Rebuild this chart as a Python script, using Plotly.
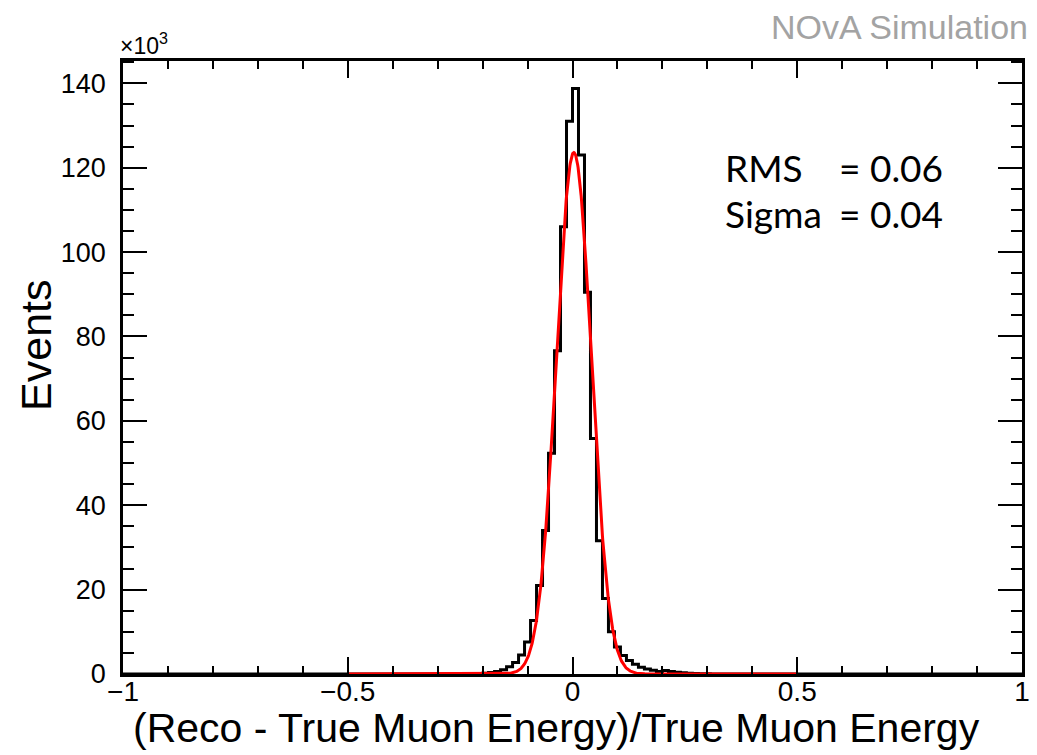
import numpy as np
import plotly.graph_objects as go

# ---------------- data (values in units of 10^3 events) ----------------
BIN_WIDTH = 2.0 / 150.0          # 150 bins over [-1, 1]
FIRST_BIN_INDEX = -18            # index of first listed bin (edge = index * BIN_WIDTH)
counts_k = [
    0.03, 0.06, 0.12, 0.2, 0.35, 0.6, 1.0, 1.7, 2.7, 4.5,      # i = -18 .. -9
    7.6, 12.7, 21.0, 34.0, 52.3, 76.6, 106.0, 131.0,            # i = -8 .. -1
    138.8, 123.0, 90.5, 55.8, 31.6, 17.9, 10.0, 6.4, 4.4, 3.2,  # i = 0 .. 9
    2.3, 1.6, 1.2, 0.9, 0.6, 0.8, 0.6, 0.4, 0.3, 0.2,           # i = 10 .. 19
    0.12, 0.08, 0.04,                                           # i = 20 .. 22
]
# Gaussian fit parameters
FIT_AMP = 123.6
FIT_MEAN = 0.003
FIT_SIGMA = 0.039
FIT_RANGE = [-0.5, 0.5]

x_tick_vals = [-1, -0.5, 0, 0.5, 1]
x_tick_text = ["\u22121", "\u22120.5", "0", "0.5", "1"]
y_tick_vals = [0, 20, 40, 60, 80, 100, 120, 140]
y_tick_text = ["0", "20", "40", "60", "80", "100", "120", "140"]

stats_labels = ["RMS", "Sigma"]
stats_values = ["= 0.06", "= 0.04"]

# ---------------- build full histogram ----------------
nbins = 150
full = [0.0] * nbins
start = FIRST_BIN_INDEX + 75
for k, v in enumerate(counts_k):
    full[start + k] = v
edges = [-1.0 + i * BIN_WIDTH for i in range(nbins + 1)]
step_x = edges
step_y = full + [full[-1]]

fx = np.linspace(FIT_RANGE[0], FIT_RANGE[1], 1201)
fy = FIT_AMP * np.exp(-0.5 * ((fx - FIT_MEAN) / FIT_SIGMA) ** 2)

fig = go.Figure()
fig.add_trace(go.Scatter(x=step_x, y=step_y, mode="lines",
                         line=dict(color="black", width=3, shape="hv"),
                         hoverinfo="skip", showlegend=False))
fig.add_trace(go.Scatter(x=fx, y=fy, mode="lines",
                         line=dict(color="#ff0000", width=3),
                         hoverinfo="skip", showlegend=False))

FONT = "Liberation Sans, Arial, sans-serif"

fig.update_layout(
    width=1037, height=755,
    margin=dict(l=123, r=7, t=61, b=81),
    paper_bgcolor="white", plot_bgcolor="white",
    font=dict(family=FONT, color="black"),
    showlegend=False,
)
fig.update_xaxes(
    range=[-1, 1], tickmode="array", tickvals=x_tick_vals, ticktext=x_tick_text,
    ticks="inside", ticklen=17, tickwidth=1.5, tickcolor="black",
    minor=dict(ticks="inside", dtick=0.1, ticklen=8, tickwidth=1.5, tickcolor="black"),
    showline=True, linewidth=2.5, linecolor="black", mirror="ticks",
    showgrid=False, zeroline=False, tickfont=dict(size=28, family=FONT),
    ticklabelstandoff=-9,
)
fig.update_yaxes(
    range=[0, 145.3], tickmode="array", tickvals=y_tick_vals, ticktext=y_tick_text,
    ticks="inside", ticklen=24, tickwidth=1.5, tickcolor="black",
    minor=dict(ticks="inside", dtick=5, ticklen=11, tickwidth=1.5, tickcolor="black"),
    showline=True, linewidth=2.5, linecolor="black", mirror="ticks",
    showgrid=False, zeroline=False, tickfont=dict(size=27, family=FONT),
    ticklabelstandoff=9,
)

ann = []
ann.append(dict(text="(Reco - True Muon Energy)/True Muon Energy", xref="paper", yref="paper",
                x=0.482, y=-0.088, xanchor="center", yanchor="middle", showarrow=False,
                font=dict(size=41, family=FONT, color="black")))
ann.append(dict(text="Events", xref="paper", yref="paper", x=-0.097, y=0.5365,
                xanchor="center", yanchor="middle", textangle=-90, showarrow=False,
                font=dict(size=43, family=FONT, color="black")))
ann.append(dict(text="\u00d710<sup>3</sup>", xref="paper", yref="paper", x=-0.006, y=1.0,
                xanchor="left", yanchor="bottom", showarrow=False,
                font=dict(size=23, family=FONT, color="black")))
ann.append(dict(text="NOvA Simulation", xref="paper", yref="paper", x=1.0, y=1.056,
                xanchor="right", yanchor="middle", showarrow=False, xshift=8,
                font=dict(size=34, family=FONT, color="#a3a3a3")))
rows_y = [0.826, 0.7516]
for lab, val, yy in zip(stats_labels, stats_values, rows_y):
    ann.append(dict(text=lab, xref="paper", yref="paper", x=0.667, y=yy,
                    xanchor="left", yanchor="middle", showarrow=False,
                    font=dict(size=37, family="Lato, Open Sans, sans-serif", color="black")))
    ann.append(dict(text=val, xref="paper", yref="paper", x=0.794, y=yy,
                    xanchor="left", yanchor="middle", showarrow=False,
                    font=dict(size=37, family="Lato, Open Sans, sans-serif", color="black")))
fig.update_layout(annotations=ann)

fig.write_html("out.html")
